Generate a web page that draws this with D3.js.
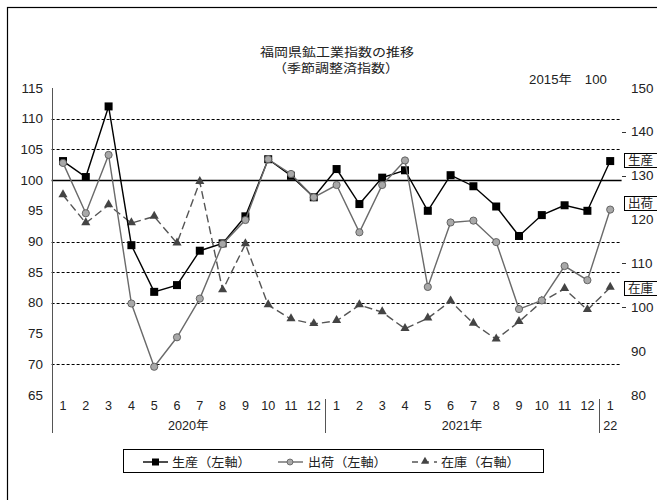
<!DOCTYPE html>
<html>
<head>
<meta charset="utf-8">
<script src="https://cdn.jsdelivr.net/npm/d3@7"></script>
<style>
  body { margin: 0; background: #fff; }
  svg { display: block; }
</style>
</head>
<body>
<svg id="chart"></svg>
<script>
// months shown on the x axis (2020/1 .. 2022/1)
const months = ['1', '2', '3', '4', '5', '6', '7', '8', '9', '10', '11', '12',
  '1', '2', '3', '4', '5', '6', '7', '8', '9', '10', '11', '12', '1'];
const years = [
  { label: '2020年', from: 0, to: 11 },
  { label: '2021年', from: 12, to: 23 },
  { label: '22', from: 24, to: 24 },
];

// 生産 (left axis)
const production = [103.1, 100.5, 112.0, 89.4, 81.8, 82.9, 88.5, 89.7, 94.1, 103.4, 100.7, 97.2,
  101.8, 96.1, 100.4, 101.6, 95.0, 100.8, 99.0, 95.7, 90.9, 94.3, 95.9, 95.0, 103.1];
// 出荷 (left axis)
const shipments = [102.8, 94.6, 104.1, 79.9, 69.6, 74.4, 80.7, 89.6, 93.5, 103.4, 101.0, 97.2,
  99.2, 91.5, 99.2, 103.2, 82.6, 93.1, 93.4, 89.9, 79.0, 80.4, 86.0, 83.7, 95.2];
// 在庫 (right axis)
const inventory = [125.6, 119.2, 123.3, 119.2, 120.7, 114.6, 128.6, 103.9, 114.4, 100.5, 97.3, 96.2,
  96.9, 100.5, 98.9, 95.1, 97.5, 101.4, 96.3, 92.7, 96.7, 101.3, 104.2, 99.4, 104.5];

const leftTicks = [115, 110, 105, 100, 95, 90, 85, 80, 75, 70, 65];
const rightTicks = [150, 140, 130, 120, 110, 100, 90, 80];
const rightTickMarks = [140, 130, 110, 100];
const dashedGrid = [110, 105, 90, 85, 80, 70];

const width = 657;
const height = 500;
const plot = { left: 51.6, right: 621.6, top: 88, bottom: 395 };

const svg = d3.select('#chart')
  .attr('width', width)
  .attr('height', height);

const numFont = '"Liberation Sans", Arial, sans-serif';
const jpFont = '"Liberation Sans", "Noto Sans CJK JP", sans-serif';

// text helper: slightly widened glyphs like the original
const addText = (g, x, y, str, size, anchor, font, sx) => g.append('text')
  .attr('transform', `translate(${x},${y}) scale(${sx},1)`)
  .attr('font-family', font)
  .attr('font-size', size)
  .attr('text-anchor', anchor)
  .attr('fill', '#222')
  .text(str);

// outer frame
svg.append('rect')
  .attr('x', 7.5)
  .attr('y', 7.5)
  .attr('width', 700)
  .attr('height', 600)
  .attr('fill', 'none')
  .attr('stroke', '#000')
  .attr('stroke-width', 1.2);

const xScale = d3.scalePoint()
  .domain(d3.range(months.length))
  .range([plot.left, plot.right])
  .padding(0.5);

const yLeft = d3.scaleLinear()
  .domain([65, 115])
  .range([plot.bottom, plot.top]);

const yRight = d3.scaleLinear()
  .domain([80, 150])
  .range([plot.bottom, plot.top]);

// title
addText(svg, 337, 57, '福岡県鉱工業指数の推移', 12.5, 'middle', jpFont, 1.12);
addText(svg, 336, 73, '（季節調整済指数）', 12.5, 'middle', jpFont, 1.12);
addText(svg, 568, 84, '2015年　100', 12, 'middle', jpFont, 1.1);

// grid
svg.append('g')
  .selectAll('line')
  .data(dashedGrid)
  .enter()
  .append('line')
  .attr('x1', plot.left)
  .attr('x2', plot.right)
  .attr('y1', d => Math.round(yLeft(d)) + 0.5)
  .attr('y2', d => Math.round(yLeft(d)) + 0.5)
  .attr('stroke', '#000')
  .attr('stroke-width', 1)
  .attr('stroke-dasharray', '3,2');

svg.append('line')
  .attr('x1', plot.left)
  .attr('x2', plot.right)
  .attr('y1', Math.round(yLeft(100)) + 0.5)
  .attr('y2', Math.round(yLeft(100)) + 0.5)
  .attr('stroke', '#000')
  .attr('stroke-width', 1.3);

// left axis
svg.append('line')
  .attr('x1', 52.5)
  .attr('x2', 52.5)
  .attr('y1', plot.top)
  .attr('y2', 433)
  .attr('stroke', '#555');

const leftG = svg.append('g');
leftTicks.forEach(t => addText(leftG, 43, yLeft(t) + 4.5, t, 12, 'end', numFont, 1.12));

// right axis
const rightG = svg.append('g');
rightTicks.forEach(t => addText(rightG, 631, yRight(t) + 4.5, t, 12, 'start', numFont, 1.12));
rightG.selectAll('line')
  .data(rightTickMarks)
  .enter()
  .append('line')
  .attr('x1', 622)
  .attr('x2', 626)
  .attr('y1', d => Math.round(yRight(d)) + 0.5)
  .attr('y2', d => Math.round(yRight(d)) + 0.5)
  .attr('stroke', '#333');

// x axis labels
const xG = svg.append('g');
months.forEach((m, i) => addText(xG, xScale(i), 410, m, 12, 'middle', numFont, 1.05));
years.forEach(y => addText(xG, (xScale(y.from) + xScale(y.to)) / 2, 430, y.label, 12, 'middle', jpFont, 1.05));

// year separators
const step = xScale.step();
xG.selectAll('line.sep')
  .data(years.slice(0, 2))
  .enter()
  .append('line')
  .attr('class', 'sep')
  .attr('x1', d => Math.round(xScale(d.to) + step / 2) + 0.5)
  .attr('x2', d => Math.round(xScale(d.to) + step / 2) + 0.5)
  .attr('y1', 399)
  .attr('y2', 433)
  .attr('stroke', '#555');

// series
const lineLeft = d3.line()
  .x((d, i) => xScale(i))
  .y(d => yLeft(d));
const lineRight = d3.line()
  .x((d, i) => xScale(i))
  .y(d => yRight(d));

const triangle = d3.symbol().type(d3.symbolTriangle).size(36);

// 在庫
svg.append('path')
  .datum(inventory)
  .attr('fill', 'none')
  .attr('stroke', '#555')
  .attr('stroke-width', 1.4)
  .attr('stroke-dasharray', '8,4')
  .attr('d', lineRight);
svg.selectAll('.tri')
  .data(inventory)
  .enter()
  .append('path')
  .attr('class', 'tri')
  .attr('d', triangle)
  .attr('transform', (d, i) => `translate(${xScale(i)},${yRight(d) - 0.5})`)
  .attr('fill', '#444');

// 生産
svg.append('path')
  .datum(production)
  .attr('fill', 'none')
  .attr('stroke', '#000')
  .attr('stroke-width', 1.4)
  .attr('d', lineLeft);
svg.selectAll('.sq')
  .data(production)
  .enter()
  .append('rect')
  .attr('class', 'sq')
  .attr('x', (d, i) => xScale(i) - 4)
  .attr('y', d => yLeft(d) - 4)
  .attr('width', 8)
  .attr('height', 8)
  .attr('fill', '#000');

// 出荷
svg.append('path')
  .datum(shipments)
  .attr('fill', 'none')
  .attr('stroke', '#6a6a6a')
  .attr('stroke-width', 1.4)
  .attr('d', lineLeft);
svg.selectAll('.dot')
  .data(shipments)
  .enter()
  .append('circle')
  .attr('class', 'dot')
  .attr('cx', (d, i) => xScale(i))
  .attr('cy', d => yLeft(d))
  .attr('r', 3.6)
  .attr('fill', '#a8a8a8')
  .attr('stroke', '#5a5a5a')
  .attr('stroke-width', 0.9);

// series name boxes on the right
const tags = [
  { label: '生産', y: 153 },
  { label: '出荷', y: 196 },
  { label: '在庫', y: 281 },
];
const tagG = svg.append('g');
tags.forEach(t => {
  tagG.append('rect')
    .attr('x', 624.5)
    .attr('y', t.y + 0.5)
    .attr('width', 40)
    .attr('height', 14)
    .attr('fill', '#fff')
    .attr('stroke', '#000');
  addText(tagG, 628, t.y + 12, t.label, 12, 'start', jpFont, 1.05);
});

// legend
const legendG = svg.append('g');
legendG.append('rect')
  .attr('x', 123.5)
  .attr('y', 449.5)
  .attr('width', 420)
  .attr('height', 23)
  .attr('fill', '#fff')
  .attr('stroke', '#000');

const ly = 462;
legendG.append('line')
  .attr('x1', 143).attr('x2', 168).attr('y1', ly).attr('y2', ly)
  .attr('stroke', '#000').attr('stroke-width', 1.4);
legendG.append('rect')
  .attr('x', 152).attr('y', ly - 3.5).attr('width', 7).attr('height', 7)
  .attr('fill', '#000');
addText(legendG, 172, ly + 5, '生産（左軸）', 12.5, 'start', jpFont, 1.05);

legendG.append('line')
  .attr('x1', 278).attr('x2', 303).attr('y1', ly).attr('y2', ly)
  .attr('stroke', '#6a6a6a').attr('stroke-width', 1.4);
legendG.append('circle')
  .attr('cx', 290).attr('cy', ly).attr('r', 3)
  .attr('fill', '#a8a8a8').attr('stroke', '#5a5a5a').attr('stroke-width', 0.8);
addText(legendG, 308, ly + 5, '出荷（左軸）', 12.5, 'start', jpFont, 1.05);

legendG.append('line')
  .attr('x1', 412).attr('x2', 437).attr('y1', ly).attr('y2', ly)
  .attr('stroke', '#555').attr('stroke-width', 1.4)
  .attr('stroke-dasharray', '6,5');
legendG.append('path')
  .attr('d', d3.symbol().type(d3.symbolTriangle).size(28))
  .attr('transform', `translate(425,${ly - 0.5})`)
  .attr('fill', '#444');
addText(legendG, 441, ly + 5, '在庫（右軸）', 12.5, 'start', jpFont, 1.05);
</script>
</body>
</html>
